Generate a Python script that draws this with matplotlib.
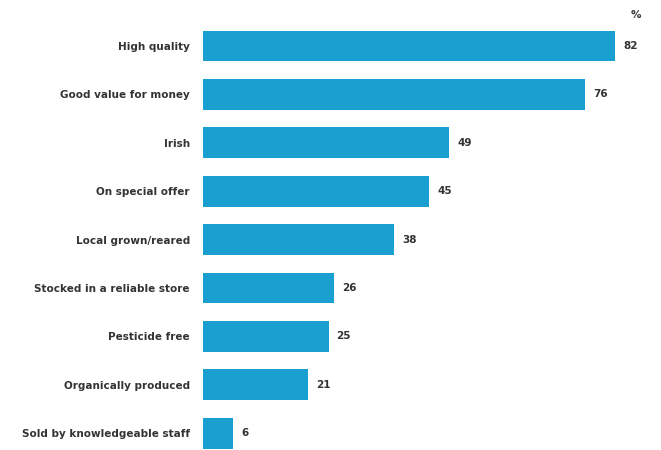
import matplotlib
matplotlib.use("Agg")
import matplotlib.pyplot as plt

categories = ["High quality", "Good value for money", "Irish", "On special offer",
              "Local grown/reared", "Stocked in a reliable store", "Pesticide free",
              "Organically produced", "Sold by knowledgeable staff"]
values = [82, 76, 49, 45, 38, 26, 25, 21, 6]

W, H = 661, 450
fig = plt.figure(figsize=(W/100, H/100), dpi=100)
left = 203 / W
right = 645 / W
top_px = 21.8
ax = fig.add_axes([left, 0, right - left, 1 - top_px / H])

ypos = list(range(len(categories)))
ax.barh(ypos, values, height=0.64, color="#1aa0d0")
ax.set_xlim(0, 88)
ax.set_ylim(8.347, -0.5)
ax.set_yticks(ypos)
ax.set_yticklabels(categories, fontsize=7.5, fontweight="bold", color="#333333")
ax.tick_params(axis="y", length=0, pad=9.5)
ax.set_xticks([])
for s in ax.spines.values():
    s.set_visible(False)
for y, v in zip(ypos, values):
    ax.text(v + 1.6, y, str(v), va="center", ha="left", fontsize=7.5,
            fontweight="bold", color="#333333")
fig.text(636 / W, 1 - 15 / H, "%", ha="center", va="center", fontsize=7.5,
         fontweight="bold", color="#333333")
fig.savefig("out.png", dpi=100)
